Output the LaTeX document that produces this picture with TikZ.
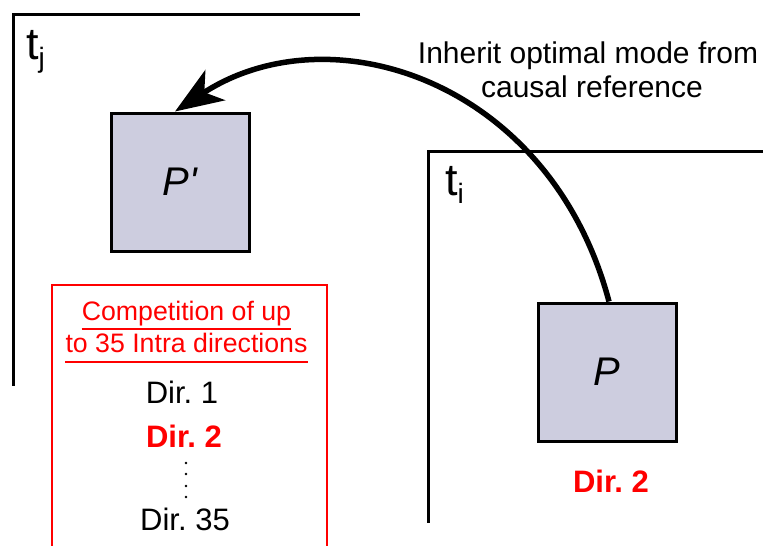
\documentclass[tikz,border=0pt]{standalone}
\usepackage{fontspec}
\setmainfont{Liberation Sans}
\usetikzlibrary{arrows.meta}
\definecolor{boxfill}{RGB}{205,205,223}
\definecolor{hired}{RGB}{255,0,0}
\begin{document}
\begin{tikzpicture}[x=1pt,y=-1pt,
  frame/.style={line width=3pt},
  block/.style={draw, line width=3pt, fill=boxfill, minimum width=138pt, minimum height=138pt, inner sep=0pt, font=\fontsize{40}{44}\selectfont\itshape},
  tlabel/.style={anchor=base west, inner sep=0pt, font=\fontsize{45}{45}\selectfont},
  lbl/.style={anchor=base, inner sep=0pt, font=\fontsize{30}{34}\selectfont},
  comp/.style={anchor=base, inner sep=0pt, text=hired, font=\fontsize{26.7}{30}\selectfont},
  dirtxt/.style={anchor=base, inner sep=0pt, font=\fontsize{31}{34}\selectfont},
  dirbold/.style={anchor=base, inner sep=0pt, text=hired, font=\fontsize{31}{34}\selectfont\bfseries},
  uline/.style={draw=hired, line width=2pt},
  bigarrow/.style={line width=5.5pt, -{Stealth[length=48pt,width=36pt,inset=13pt]}}
]
\useasboundingbox (0,0) rectangle (763,546);

% frames
\draw[frame] (360,14) -- (13,14) -- (13,386);
\draw[frame] (763,151) -- (428,151) -- (428,523);

\node[tlabel] (tj) at (26,59) {t\raisebox{-9pt}{\fontsize{28}{28}\selectfont j}};
\node[tlabel] (ti) at (445,195) {t\raisebox{-8pt}{\fontsize{28}{28}\selectfont i}};

% blocks
\node[block] (pp) at (180,182) {P\textquotesingle};
\node[block] (p) at (607,372) {P};

% label
\node[lbl] (lab1) at (588,63) {Inherit optimal mode from};
\node[lbl] (lab2) at (592,97) {causal reference};

% arrow
\draw[bigarrow] ([xshift=2pt]p.north) .. controls (550,80) and (330,10) .. ([xshift=-5pt]pp.north);

% red box
\draw[hired, line width=2.2pt] (52,550) -- (52,285) -- (327,285) -- (327,550);
\node[comp] (c1) at (186.5,320) {Competition of up};
\node[comp] (c2) at (186.5,352.7) {to 35 Intra directions};
\draw[uline] ([yshift=-9pt]c1.base west) -- ([yshift=-9pt]c1.base east);
\draw[uline] ([yshift=-9pt]c2.base west) -- ([yshift=-9pt]c2.base east);

\node[dirtxt] (d1) at (182,403) {Dir.\ 1};
\node[dirbold] (d2) at (184,447) {Dir.\ 2};
\foreach \yy in {463,474,486,497} \fill (186,\yy) circle (1.3pt);
\node[dirtxt] (d35) at (185,530) {Dir.\ 35};

\node[dirbold] (pd2) at (611,492) {Dir.\ 2};
\end{tikzpicture}
\end{document}
